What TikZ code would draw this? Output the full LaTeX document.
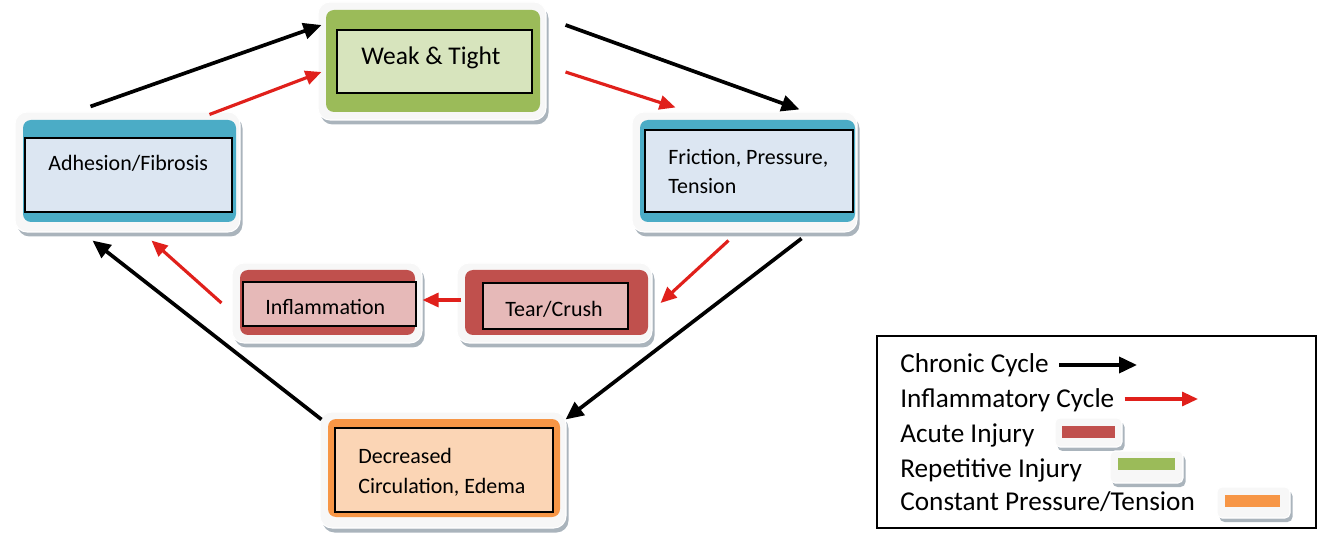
\documentclass[tikz,border=0pt]{standalone}
\usepackage{fontspec}
\setmainfont{Carlito}
\usetikzlibrary{arrows.meta,shadows,positioning}

\definecolor{bandgreen}{HTML}{9BBB59}
\definecolor{lightgreen}{HTML}{D7E4BD}
\definecolor{bandteal}{HTML}{4BACC6}
\definecolor{lightblue}{HTML}{DCE6F2}
\definecolor{bandred}{HTML}{C0504D}
\definecolor{lightred}{HTML}{E6B9B8}
\definecolor{bandorange}{HTML}{F79646}
\definecolor{lightorange}{HTML}{FBD5B5}
\definecolor{arrowred}{HTML}{E0201B}
\definecolor{shadowgray}{HTML}{8E9BA6}

\def\px{0.02cm}

\tikzset{
  tileframe/.style={rounded corners=0.24cm, fill=gray!6, draw=white, line width=0.6pt,
    drop shadow={opacity=.75, fill=shadowgray, shadow xshift=0.05cm, shadow yshift=-0.09cm}},
  band/.style={rounded corners=0.16cm, fill=#1},
  inbox/.style={draw=black, line width=1.6pt, fill=#1},
  boxtext/.style={font=\fontsize{12.5}{16.8}\selectfont, align=left, inner sep=0pt},
  legtext/.style={font=\fontsize{15.5}{18}\selectfont, inner sep=0pt, anchor=base west},
  chronic/.style={-{Triangle[length=0.36cm,width=0.32cm]}, line width=2.1pt, black},
  inflam/.style={-{Triangle[length=0.32cm,width=0.28cm]}, line width=1.8pt, arrowred},
  swatch/.style={rounded corners=0.1cm, fill=gray!6, draw=white, line width=0.6pt,
    drop shadow={opacity=.75, fill=shadowgray, shadow xshift=0.05cm, shadow yshift=-0.08cm}}
}

\begin{document}
\begin{tikzpicture}[x=0.02cm,y=-0.02cm]
\useasboundingbox (0,0) rectangle (1325,560);

% WEAK & TIGHT
\node(weakF)[tileframe, minimum width=228*\px, minimum height=118*\px] at (432,61) {};
\node(weakB)[band=bandgreen, minimum width=214*\px, minimum height=102*\px] at (433,61) {};
\node(weak)[inbox=lightgreen, minimum width=195*\px, minimum height=63*\px] at (434.5,61.5) {};
\node(weakT)[boxtext, font=\fontsize{14.5}{18}\selectfont, anchor=base west] at (361,65) {Weak \& Tight};

% ADHESION / FIBROSIS
\node(adhF)[tileframe, minimum width=225*\px, minimum height=120*\px] at (127.5,172) {};
\node(adhB)[band=bandteal, minimum width=213*\px, minimum height=102*\px] at (129.5,171) {};
\node(adh)[inbox=lightblue, minimum width=207*\px, minimum height=74*\px] at (128.5,175) {};
\node(adhT)[boxtext, anchor=base west] at (48,171) {Adhesion/Fibrosis};

% FRICTION, PRESSURE, TENSION
\node(friF)[tileframe, minimum width=225*\px, minimum height=120*\px] at (744.5,172) {};
\node(friB)[band=bandteal, minimum width=215*\px, minimum height=102*\px] at (747.5,171) {};
\node(fri)[inbox=lightblue, minimum width=208*\px, minimum height=82*\px] at (749,171) {};
\node(friT)[boxtext, anchor=base west] at (668,194) {Friction, Pressure,\\Tension};

% INFLAMMATION
\node(inflF)[tileframe, minimum width=190*\px, minimum height=80*\px] at (327,303) {};
\node(inflB)[band=bandred, minimum width=175*\px, minimum height=65*\px] at (327.5,302.5) {};
\node(infl)[inbox=lightred, minimum width=173*\px, minimum height=44*\px] at (329.5,304) {};
\node(inflT)[boxtext, anchor=base west] at (265,315) {Inflammation};

% TEAR / CRUSH
\node(tearF)[tileframe, minimum width=195*\px, minimum height=80*\px] at (554.5,303) {};
\node(tearB)[band=bandred, minimum width=183*\px, minimum height=65*\px] at (556.5,302.5) {};
\node(tear)[inbox=lightred, minimum width=145*\px, minimum height=46*\px] at (555.5,306) {};
\node(tearT)[boxtext, anchor=base west] at (505,317) {Tear/Crush};

% DECREASED CIRCULATION
\node(decF)[tileframe, minimum width=246*\px, minimum height=116*\px] at (443,470) {};
\node(decB)[band=bandorange, minimum width=232*\px, minimum height=98*\px] at (444,468) {};
\node(dec)[inbox=lightorange, minimum width=218*\px, minimum height=84*\px] at (444,470) {};
\node(decT)[boxtext, anchor=base west] at (358,493) {Decreased\\Circulation, Edema};

% CHRONIC CYCLE
\draw[chronic] ([shift={(-37,-5)}]adhF.north) -- ([shift={(4,-36)}]weakF.west);
\draw[chronic] ([shift={(19,-36)}]weakF.east) -- ([shift={(55,-2)}]friF.north);
\draw[chronic] ([shift={(57,6)}]friF.south) -- ([shift={(-1,8)}]decF.north east);
\draw[chronic] ([shift={(2,8)}]decF.north west) -- ([shift={(-35,8)}]adhF.south);

% INFLAMMATORY CYCLE
\draw[inflam] ([shift={(82,3)}]adhF.north) -- ([shift={(4,11)}]weakF.west);
\draw[inflam] ([shift={(19,11)}]weakF.east) -- ([shift={(-69,-4)}]friF.north);
\draw[inflam] ([shift={(-16,8)}]friF.south) -- ([shift={(8,0)}]tearF.east);
\draw[inflam] ([shift={(5,-3)}]tearF.west) -- ([shift={(0,-3)}]inflF.east);
\draw[inflam] ([shift={(-10,0)}]inflF.west) -- ([shift={(24,8)}]adhF.south);

% LEGEND
\node(legend)[draw, line width=1.5pt, minimum width=439*\px, minimum height=192*\px] at (1096.5,432) {};
\node(legChr)[legtext] at (900,373) {Chronic Cycle};
\node(legInf)[legtext] at (900,407) {Inflammatory Cycle};
\node(legAcu)[legtext] at (900,442) {Acute Injury};
\node(legRep)[legtext] at (900,477) {Repetitive Injury};
\node(legCon)[legtext] at (900,510) {Constant Pressure/Tension};

\coordinate(chrEnd) at (1137,365);
\coordinate(infEnd) at (1198,399);
\draw[chronic] ([shift={(10,-8)}]legChr.base east) -- (chrEnd);
\draw[inflam] ([shift={(10,-8)}]legInf.base east) -- (infEnd);

%swatches
\node(swAcu)[swatch, minimum width=67*\px, minimum height=29*\px] at (1088.5,432.5) {};
\node(barAcu)[fill=bandred, minimum width=53*\px, minimum height=12*\px, inner sep=0pt] at (1088.5,432) {};
\node(swRep)[swatch, minimum width=73*\px, minimum height=32*\px] at (1146.5,467) {};
\node(barRep)[fill=bandgreen, minimum width=57*\px, minimum height=12*\px, inner sep=0pt] at (1146.5,464) {};
\node(swCon)[swatch, minimum width=73*\px, minimum height=31*\px] at (1253.5,502.5) {};
\node(barCon)[fill=bandorange, minimum width=55*\px, minimum height=12*\px, inner sep=0pt] at (1252.5,501) {};

\end{tikzpicture}
\end{document}
